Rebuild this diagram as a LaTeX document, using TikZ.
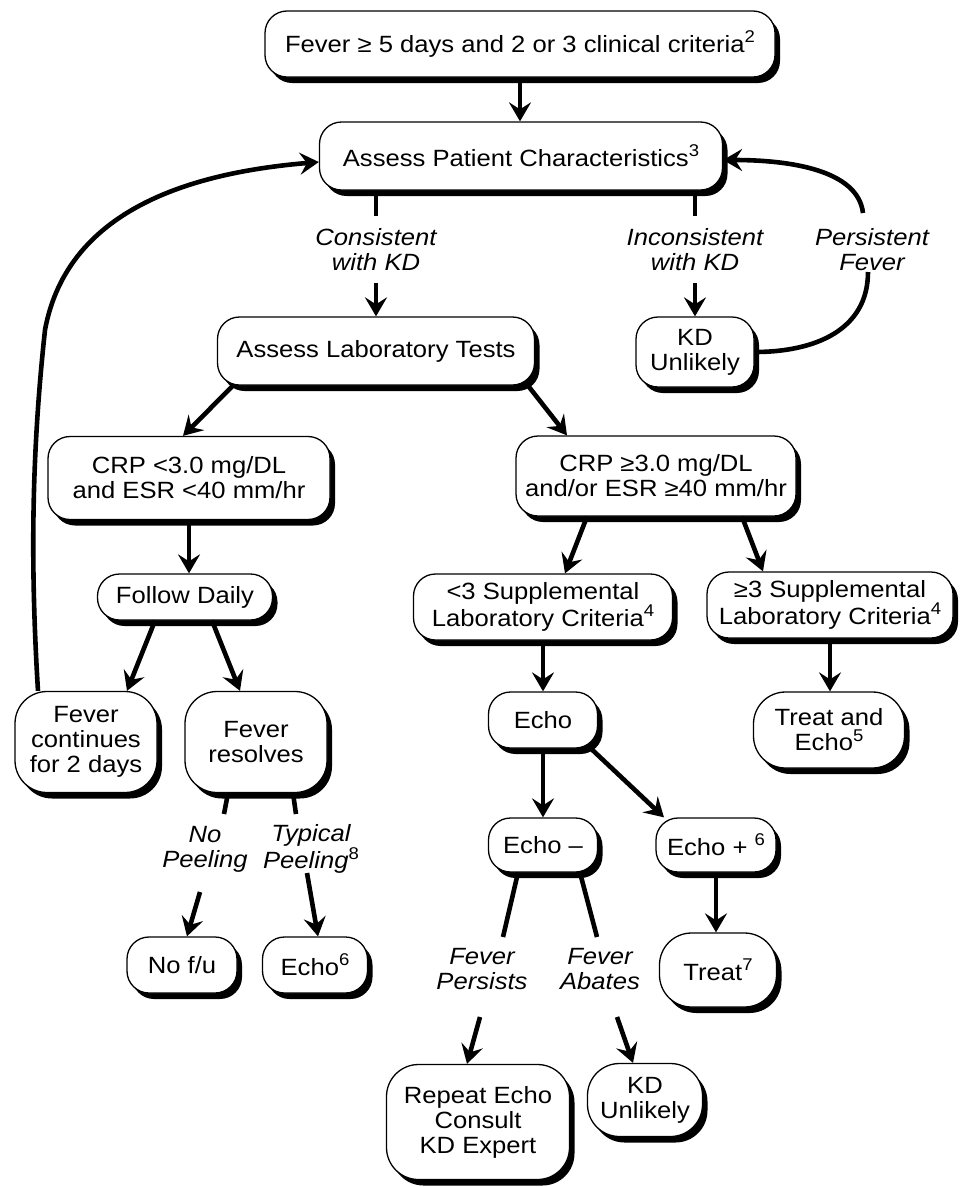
\documentclass[tikz,border=0pt]{standalone}
\usepackage{fontspec}
\setmainfont{Liberation Sans}[FakeStretch=1.09]
\usetikzlibrary{arrows.meta,shadows}
\newcommand{\mysup}[1]{\raisebox{0.42em}{\fontsize{17}{17}\selectfont\upshape #1}}
\begin{document}
\begin{tikzpicture}[x=1pt,y=1pt,
  every node/.style={font=\fontsize{23.5}{25}\selectfont},
  box/.style={draw, line width=1.3pt, fill=white, rounded corners=22pt, align=center, inner sep=2pt,
    drop shadow={shadow xshift=5pt, shadow yshift=-6pt, fill=black, opacity=1}},
  tallbox/.style={box, rounded corners=32pt},
  lbl/.style={font=\fontsize{23.5}{25}\selectfont\itshape, align=center, inner sep=0pt},
  conn/.style={line width=4.6pt},
  arr/.style={conn, -{Stealth[length=19pt,width=22pt,inset=7pt]}}]
\useasboundingbox (0,0) rectangle (960,-1187);

% boxes
\node[box, minimum width=510pt, minimum height=66pt] (top) at (520,-44) {Fever ≥ 5 days and 2 or 3 clinical criteria\mysup{2}};
\node[box, minimum width=403pt, minimum height=68pt] (assess) at (521,-156) {Assess Patient Characteristics\mysup{3}};
\node[box, minimum width=317pt, minimum height=68pt] (lab) at (376,-351) {Assess Laboratory Tests};
\node[box, minimum width=118pt, minimum height=70pt] (kdu1) at (695,-352) {KD\\Unlikely};
\node[box, minimum width=282pt, minimum height=83pt] (crp1) at (189,-478) {CRP <3.0 mg/DL\\and ESR <40 mm/hr};
\node[box, minimum width=280pt, minimum height=80pt] (crp2) at (656,-476) {CRP ≥3.0 mg/DL\\and/or ESR ≥40 mm/hr};
\node[box, minimum width=175pt, minimum height=46pt] (follow) at (185,-597) {Follow Daily};
\node[box, minimum width=259pt, minimum height=66pt] (supp1) at (543,-607) {<3 Supplemental\\Laboratory Criteria\mysup{4}};
\node[box, minimum width=246pt, minimum height=66pt] (supp2) at (830,-605) {≥3 Supplemental\\Laboratory Criteria\mysup{4}};
\node[tallbox, minimum width=142pt, minimum height=101pt] (fc) at (86,-742) {Fever\\continues\\for 2 days};
\node[tallbox, minimum width=142pt, minimum height=101pt] (fr) at (256,-742) {Fever\\resolves};
\node[box, minimum width=109pt, minimum height=56pt] (echo) at (543,-720) {Echo};
\node[tallbox, minimum width=151pt, minimum height=76pt] (te) at (829,-730) {Treat and\\Echo\mysup{5}};
\node[box, minimum width=109pt, minimum height=54pt] (em) at (543,-845) {Echo –};
\node[box, minimum width=120pt, minimum height=54pt] (ep) at (716,-845) {Echo + \mysup{6}};
\node[box, minimum width=110pt, minimum height=56pt] (nofu) at (182,-965) {No f/u};
\node[box, minimum width=105pt, minimum height=56pt] (echo6) at (315,-965) {Echo\mysup{6}};
\node[tallbox, minimum width=117pt, minimum height=74pt] (treat) at (718,-970) {Treat\mysup{7}};
\node[tallbox, minimum width=183pt, minimum height=115pt] (repeat) at (478,-1122) {Repeat Echo\\Consult\\KD Expert};
\node[tallbox, minimum width=115pt, minimum height=73pt] (kdu2) at (645,-1100) {KD\\Unlikely};

% labels
\node[lbl] (consistent) at (376,-250) {Consistent\\with KD};
\node[lbl] (inconsistent) at (695,-250) {Inconsistent\\with KD};
\node[lbl] (persistent) at (872,-250) {Persistent\\Fever};
\node[lbl] (nopeel) at (205,-849) {No\\Peeling};
\node[lbl] (typpeel) at (311,-849) {Typical\\Peeling\mysup{8}};
\node[lbl] (fpersists) at (482,-969) {Fever\\Persists};
\node[lbl] (fabates) at (600,-969) {Fever\\Abates};

% free ends of stubs
\coordinate (c1a) at (376,-216); \coordinate (c1b) at (376,-283);
\coordinate (c2a) at (695,-216); \coordinate (c2b) at (695,-283);
\coordinate (pfa) at (868,-272); \coordinate (pfb) at (863,-213);
\coordinate (npa) at (224,-814); \coordinate (npb) at (200,-892);
\coordinate (tpa) at (296,-814); \coordinate (tpb) at (307,-873);
\coordinate (fpa) at (503,-937); \coordinate (fpb) at (480,-1017);
\coordinate (faa) at (597,-937); \coordinate (fab) at (617,-1017);

% connectors
\draw[arr] (top.south) -- (top.south |- assess.north);
\draw[conn] (assess.south -| c1a) -- (c1a);
\draw[arr] (c1b) -- (c1b |- lab.north);
\draw[conn] (assess.south -| c2a) -- (c2a);
\draw[arr] (c2b) -- (kdu1.north);
\draw[conn] (kdu1.east) .. controls (815,-352) and (868,-330) .. (pfa);
\draw[arr] (pfb) .. controls (858,-170) and (790,-160) .. ([yshift=-4pt]assess.east);
\draw[arr] ([xshift=-48pt]fc.north) .. controls (30,-560) and (32,-450) .. (45,-330)
  .. controls (68,-205) and (200,-172) .. ([yshift=-6pt]assess.west);
\draw[arr] ([xshift=-143pt]lab.south) -- ([xshift=-6pt]crp1.north);
\draw[arr] ([xshift=152pt]lab.south) -- ([xshift=-89pt]crp2.north);
\draw[arr] (crp1.south) -- (crp1.south |- follow.north);
\draw[arr] ([xshift=-69pt]crp2.south) -- ([xshift=22pt]supp1.north);
\draw[arr] ([xshift=86pt]crp2.south) -- ([xshift=-67pt]supp2.north);
\draw[arr] ([xshift=-30pt]follow.south) -- ([xshift=41pt]fc.north);
\draw[arr] ([xshift=27pt]follow.south) -- ([xshift=-16pt]fr.north);
\draw[arr] (supp1.south) -- (echo.north);
\draw[arr] (supp2.south) -- (supp2.south |- te.north);
\draw[arr] (echo.south) -- (em.north);
\draw[arr] ([xshift=48pt]echo.south) -- ([xshift=-52pt]ep.north);
\draw[arr] (ep.south) -- (ep.south |- treat.north);
\draw[conn] ([xshift=-28pt]fr.south) -- (npa);
\draw[conn] ([xshift=37pt]fr.south) -- (tpa);
\draw[arr] (npb) -- ([xshift=5pt]nofu.north);
\draw[arr] (tpb) -- ([xshift=3pt]echo6.north);
\draw[conn] ([xshift=-25pt]em.south) -- (fpa);
\draw[conn] ([xshift=37pt]em.south) -- (faa);
\draw[arr] (fpb) -- ([xshift=-11pt]repeat.north);
\draw[arr] (fab) -- ([xshift=-12pt]kdu2.north);
\end{tikzpicture}
\end{document}
